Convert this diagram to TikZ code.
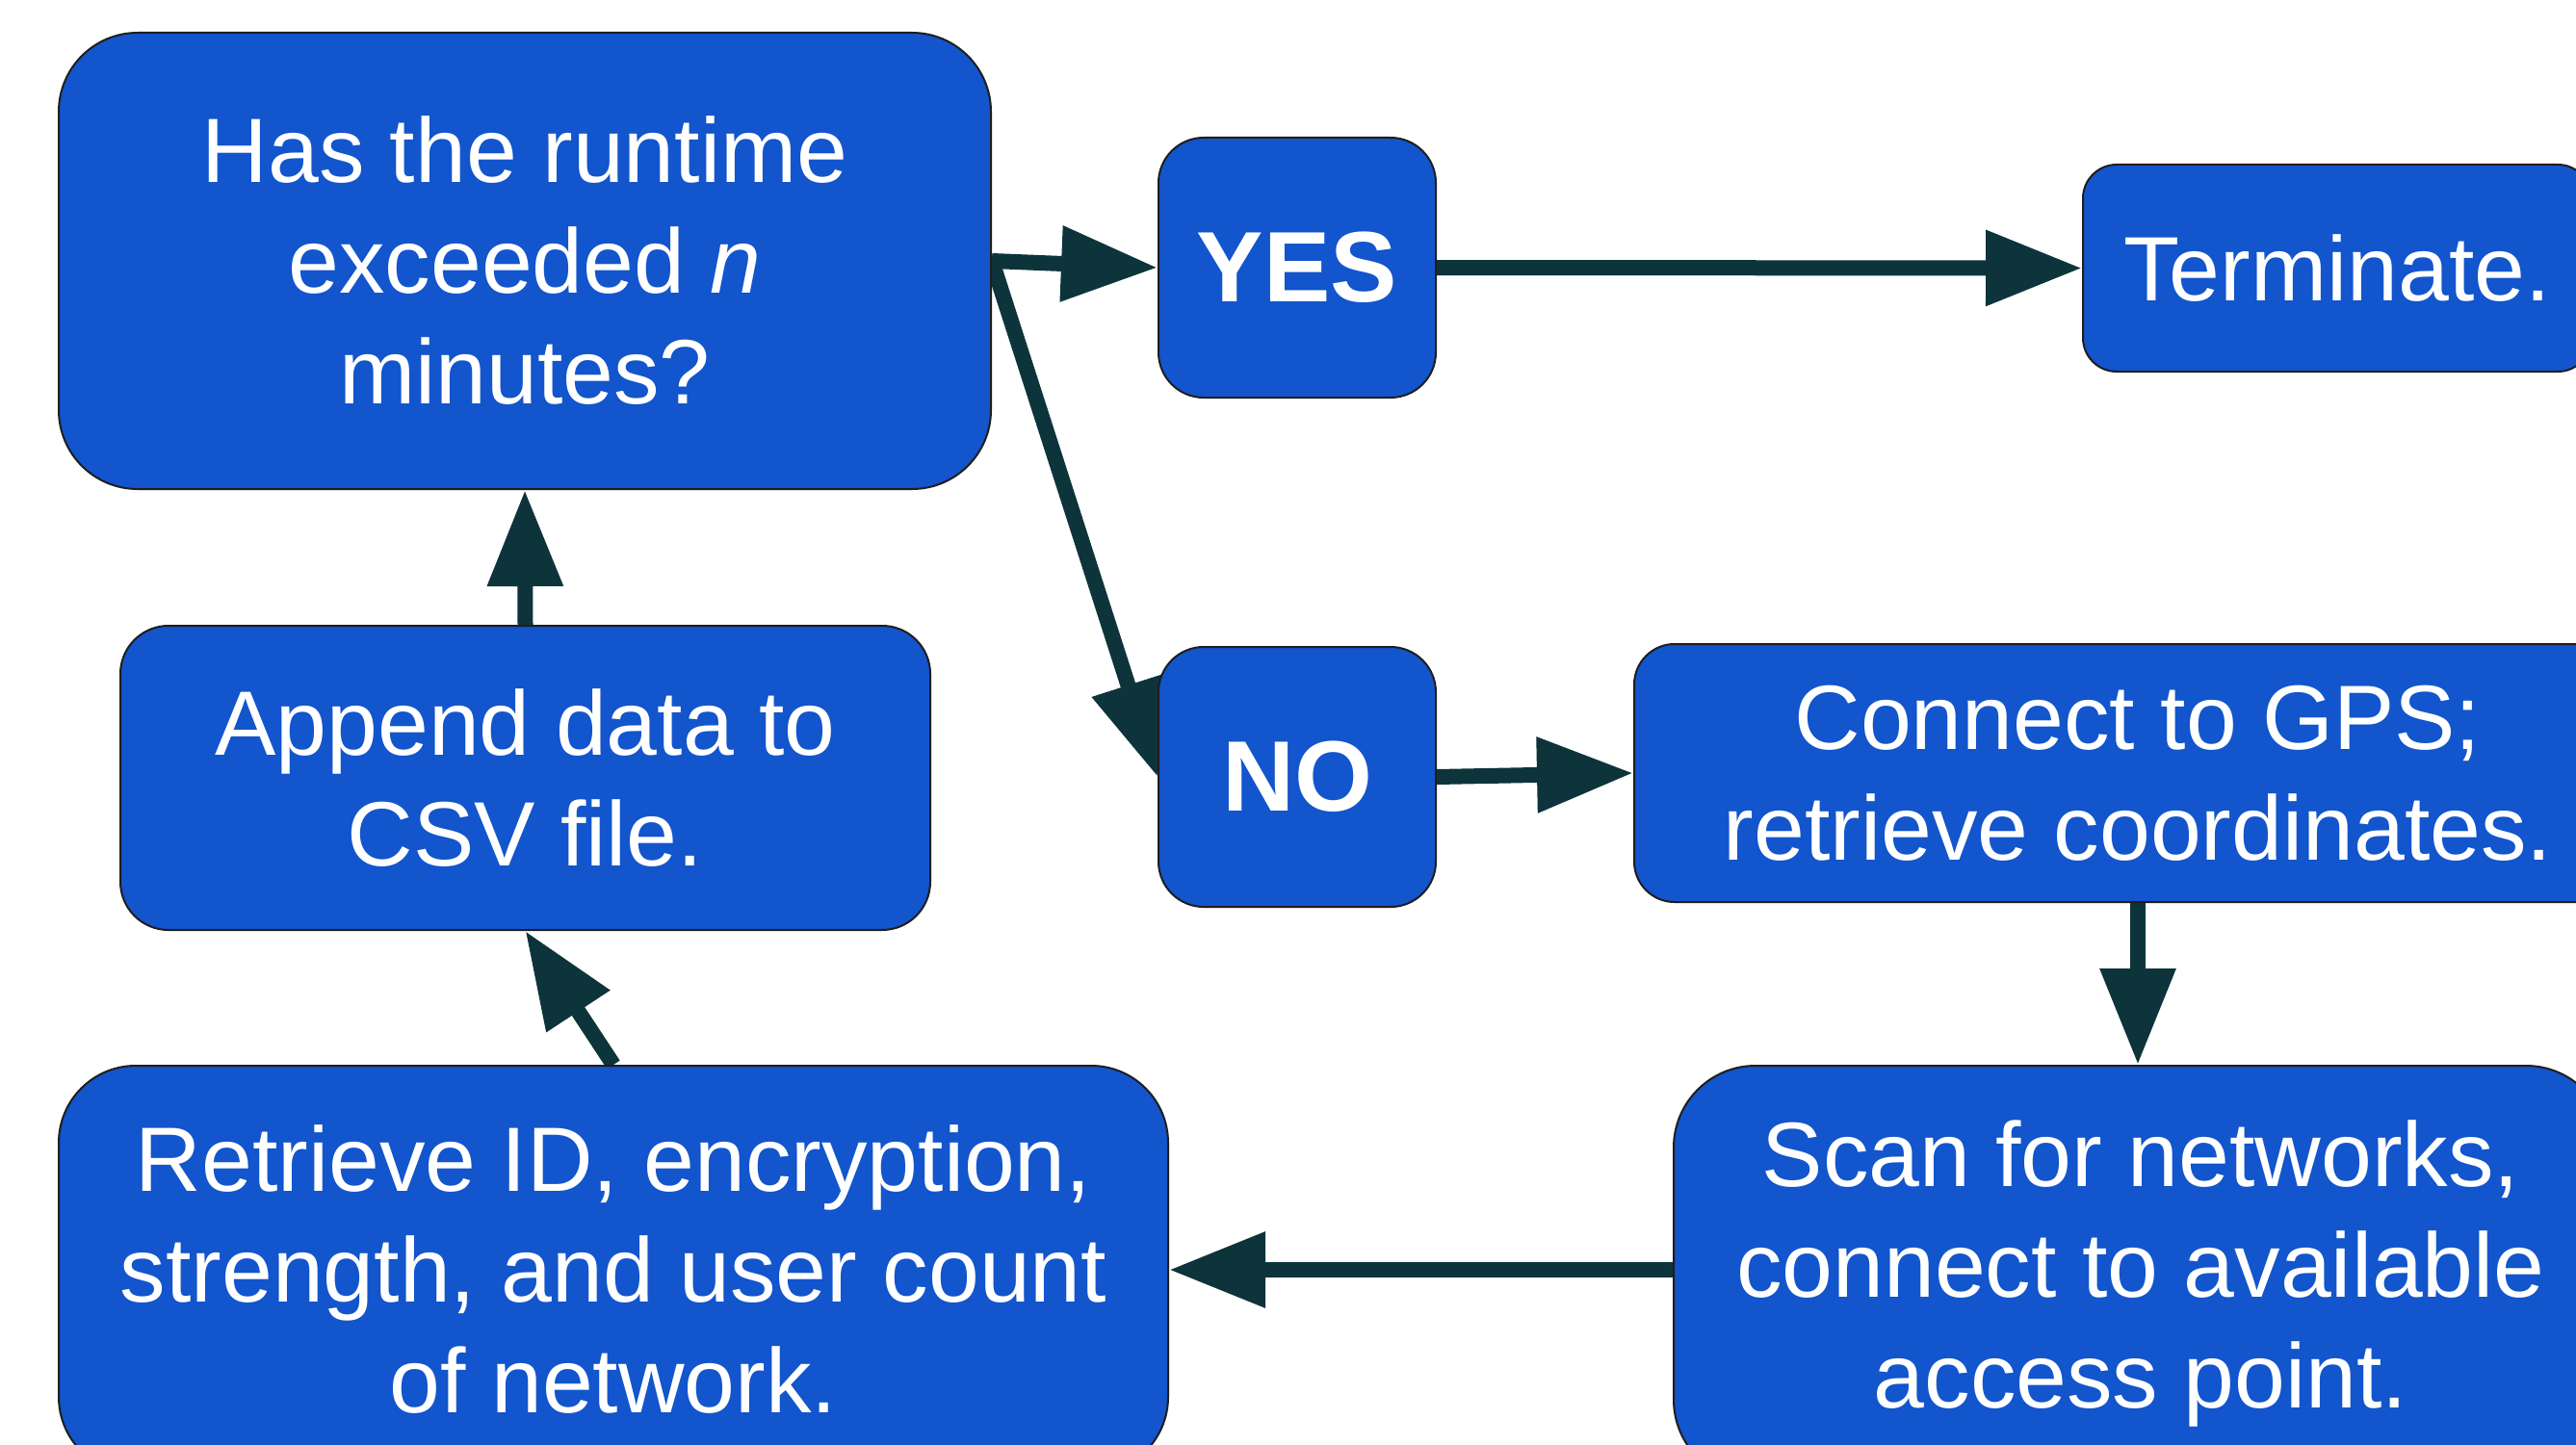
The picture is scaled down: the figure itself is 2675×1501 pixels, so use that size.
\documentclass[tikz,border=0pt]{standalone}
\usepackage{fontspec}
\setmainfont{Liberation Sans}
\usetikzlibrary{arrows.meta,backgrounds}
\definecolor{boxblue}{HTML}{1255CC}
\definecolor{arrowc}{HTML}{0D343B}
\definecolor{edgec}{HTML}{1E1E1E}
\begin{document}
\begin{tikzpicture}[x=1pt,y=-1pt,
  box/.style={draw=edgec,line width=2pt,fill=boxblue,text=white,align=center,
    inner sep=0pt,font=\fontsize{95}{115}\selectfont},
  ansbox/.style={box,minimum width=288pt,minimum height=270pt,rounded corners=47pt,
    font=\fontsize{104}{115}\bfseries\selectfont},
  conn/.style={draw=arrowc,line width=16pt,-{Triangle[length=100pt,width=75pt]}}]
\useasboundingbox (0,0) rectangle (2675,1501);
\clip (0,0) rectangle (2675,1501);
\node[box,minimum width=968pt,minimum height=474pt,rounded corners=82pt] (q) at (545,271)
  {Has the runtime\\exceeded \textit{n}\\minutes?};
\node[ansbox] (yes) at (1347,278) {YES};
\node[ansbox] (no) at (1347,807) {NO};
\node[box,minimum width=528pt,minimum height=215pt,rounded corners=35pt] (term) at (2427,278.5)
  {Terminate.};
\node[box,minimum width=1046pt,minimum height=268pt,rounded corners=42pt] (gps) at (2220,803)
  {Connect to GPS;\\retrieve coordinates.};
\node[box,minimum width=970pt,minimum height=432pt,rounded corners=85pt] (scan) at (2223,1323)
  {Scan for networks,\\connect to available\\access point.};
\node[box,minimum width=1152pt,minimum height=424pt,rounded corners=80pt] (retr) at (637,1319)
  {Retrieve ID, encryption,\\strength, and user count\\of network.};
\node[box,minimum width=841pt,minimum height=316pt,rounded corners=50pt] (app) at (545.5,808)
  {Append data to\\CSV file.};
\begin{pgfonlayer}{background}
  \fill[white] (0,0) rectangle (2675,1501);
  \draw[conn] (q.east) -- (yes.west);
  \draw[conn] (q.east) -- (no.west);
  \draw[conn] (yes.east) -- (term.west);
  \draw[conn] (no.east) -- (gps.west);
  \draw[conn] (gps.south) -- (gps.south |- scan.north);
  \draw[conn] (scan.west |- retr.east) -- (retr.east);
  \draw[conn] (retr.north) -- (app.south);
  \draw[conn] (app.north) -- (q.south);
\end{pgfonlayer}
\end{tikzpicture}
\end{document}
